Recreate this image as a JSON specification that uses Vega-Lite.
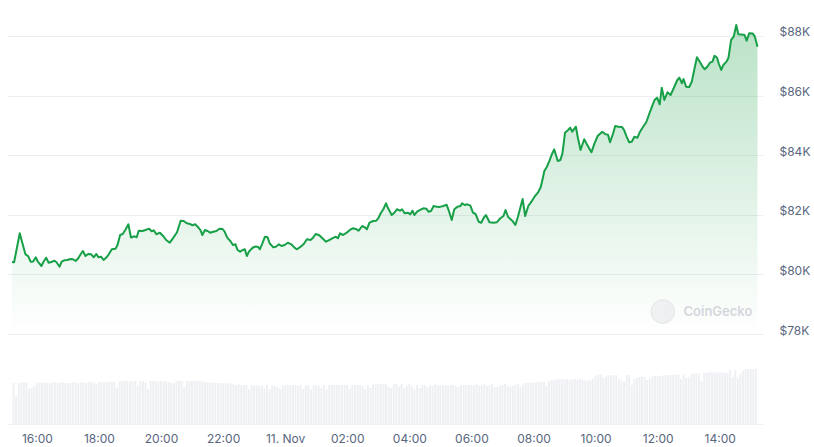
{
  "$schema": "https://vega.github.io/schema/vega-lite/v6.json",
  "width": 756,
  "height": 414,
  "padding": {"left": 7, "top": 10, "right": 51, "bottom": 23},
  "autosize": {"type": "none"},
  "background": "#ffffff",
  "config": {"view": {"stroke": null}, "font": "Inter"},
  "datasets": {
    "price": [
      {"time":"2024-11-10T15:12:00Z","price":80416},{"time":"2024-11-10T15:16:00Z","price":80406},{"time":"2024-11-10T15:27:00Z","price":81379},{"time":"2024-11-10T15:34:00Z","price":80930},{"time":"2024-11-10T15:38:00Z","price":80674},{"time":"2024-11-10T15:43:00Z","price":80617},{"time":"2024-11-10T15:48:00Z","price":80426},{"time":"2024-11-10T15:53:00Z","price":80430},{"time":"2024-11-10T15:58:00Z","price":80574},{"time":"2024-11-10T16:02:00Z","price":80426},{"time":"2024-11-10T16:09:00Z","price":80282},{"time":"2024-11-10T16:13:00Z","price":80426},{"time":"2024-11-10T16:18:00Z","price":80560},{"time":"2024-11-10T16:23:00Z","price":80393},{"time":"2024-11-10T16:28:00Z","price":80416},{"time":"2024-11-10T16:34:00Z","price":80460},{"time":"2024-11-10T16:38:00Z","price":80406},{"time":"2024-11-10T16:44:00Z","price":80258},{"time":"2024-11-10T16:48:00Z","price":80426},{"time":"2024-11-10T16:53:00Z","price":80473},{"time":"2024-11-10T16:59:00Z","price":80483},{"time":"2024-11-10T17:05:00Z","price":80517},{"time":"2024-11-10T17:10:00Z","price":80507},{"time":"2024-11-10T17:15:00Z","price":80450},{"time":"2024-11-10T17:20:00Z","price":80540},{"time":"2024-11-10T17:25:00Z","price":80685},{"time":"2024-11-10T17:29:00Z","price":80785},{"time":"2024-11-10T17:34:00Z","price":80617},{"time":"2024-11-10T17:39:00Z","price":80685},{"time":"2024-11-10T17:45:00Z","price":80674},{"time":"2024-11-10T17:50:00Z","price":80574},{"time":"2024-11-10T17:55:00Z","price":80685},{"time":"2024-11-10T17:59:00Z","price":80574},{"time":"2024-11-10T18:04:00Z","price":80594},{"time":"2024-11-10T18:09:00Z","price":80483},{"time":"2024-11-10T18:15:00Z","price":80574},{"time":"2024-11-10T18:19:00Z","price":80674},{"time":"2024-11-10T18:25:00Z","price":80842},{"time":"2024-11-10T18:32:00Z","price":80862},{"time":"2024-11-10T18:36:00Z","price":80987},{"time":"2024-11-10T18:41:00Z","price":81322},{"time":"2024-11-10T18:46:00Z","price":81356},{"time":"2024-11-10T18:51:00Z","price":81490},{"time":"2024-11-10T18:57:00Z","price":81681},{"time":"2024-11-10T19:02:00Z","price":81238},{"time":"2024-11-10T19:09:00Z","price":81279},{"time":"2024-11-10T19:13:00Z","price":81245},{"time":"2024-11-10T19:17:00Z","price":81466},{"time":"2024-11-10T19:24:00Z","price":81456},{"time":"2024-11-10T19:30:00Z","price":81490},{"time":"2024-11-10T19:37:00Z","price":81534},{"time":"2024-11-10T19:42:00Z","price":81446},{"time":"2024-11-10T19:46:00Z","price":81480},{"time":"2024-11-10T19:51:00Z","price":81346},{"time":"2024-11-10T19:58:00Z","price":81399},{"time":"2024-11-10T20:04:00Z","price":81289},{"time":"2024-11-10T20:10:00Z","price":81154},{"time":"2024-11-10T20:17:00Z","price":81064},{"time":"2024-11-10T20:23:00Z","price":81211},{"time":"2024-11-10T20:31:00Z","price":81413},{"time":"2024-11-10T20:38:00Z","price":81802},{"time":"2024-11-10T20:44:00Z","price":81790},{"time":"2024-11-10T20:50:00Z","price":81715},{"time":"2024-11-10T20:56:00Z","price":81691},{"time":"2024-11-10T21:01:00Z","price":81648},{"time":"2024-11-10T21:06:00Z","price":81681},{"time":"2024-11-10T21:12:00Z","price":81581},{"time":"2024-11-10T21:16:00Z","price":81490},{"time":"2024-11-10T21:20:00Z","price":81322},{"time":"2024-11-10T21:25:00Z","price":81490},{"time":"2024-11-10T21:30:00Z","price":81456},{"time":"2024-11-10T21:35:00Z","price":81399},{"time":"2024-11-10T21:41:00Z","price":81433},{"time":"2024-11-10T21:47:00Z","price":81456},{"time":"2024-11-10T21:53:00Z","price":81534},{"time":"2024-11-10T21:59:00Z","price":81523},{"time":"2024-11-10T22:03:00Z","price":81433},{"time":"2024-11-10T22:08:00Z","price":81232},{"time":"2024-11-10T22:14:00Z","price":81121},{"time":"2024-11-10T22:19:00Z","price":80987},{"time":"2024-11-10T22:24:00Z","price":81010},{"time":"2024-11-10T22:28:00Z","price":80819},{"time":"2024-11-10T22:33:00Z","price":80762},{"time":"2024-11-10T22:38:00Z","price":80819},{"time":"2024-11-10T22:42:00Z","price":80842},{"time":"2024-11-10T22:46:00Z","price":80617},{"time":"2024-11-10T22:50:00Z","price":80762},{"time":"2024-11-10T22:57:00Z","price":80893},{"time":"2024-11-10T23:03:00Z","price":80936},{"time":"2024-11-10T23:08:00Z","price":80919},{"time":"2024-11-10T23:11:00Z","price":80842},{"time":"2024-11-10T23:16:00Z","price":81044},{"time":"2024-11-10T23:21:00Z","price":81265},{"time":"2024-11-10T23:26:00Z","price":81245},{"time":"2024-11-10T23:30:00Z","price":81044},{"time":"2024-11-10T23:37:00Z","price":80909},{"time":"2024-11-10T23:42:00Z","price":80930},{"time":"2024-11-10T23:48:00Z","price":81010},{"time":"2024-11-10T23:53:00Z","price":80953},{"time":"2024-11-10T23:59:00Z","price":80987},
      {"time":"2024-11-11T00:05:00Z","price":81064},{"time":"2024-11-11T00:12:00Z","price":81010},{"time":"2024-11-11T00:18:00Z","price":80896},{"time":"2024-11-11T00:23:00Z","price":80842},{"time":"2024-11-11T00:30:00Z","price":80930},{"time":"2024-11-11T00:36:00Z","price":81020},{"time":"2024-11-11T00:42:00Z","price":81178},{"time":"2024-11-11T00:49:00Z","price":81154},{"time":"2024-11-11T00:54:00Z","price":81232},{"time":"2024-11-11T00:59:00Z","price":81356},{"time":"2024-11-11T01:06:00Z","price":81312},{"time":"2024-11-11T01:12:00Z","price":81211},{"time":"2024-11-11T01:19:00Z","price":81097},{"time":"2024-11-11T01:25:00Z","price":81154},{"time":"2024-11-11T01:31:00Z","price":81211},{"time":"2024-11-11T01:38:00Z","price":81265},{"time":"2024-11-11T01:42:00Z","price":81211},{"time":"2024-11-11T01:46:00Z","price":81379},{"time":"2024-11-11T01:52:00Z","price":81322},{"time":"2024-11-11T01:59:00Z","price":81399},{"time":"2024-11-11T02:05:00Z","price":81490},{"time":"2024-11-11T02:11:00Z","price":81547},{"time":"2024-11-11T02:18:00Z","price":81513},{"time":"2024-11-11T02:22:00Z","price":81466},{"time":"2024-11-11T02:29:00Z","price":81624},{"time":"2024-11-11T02:34:00Z","price":81581},{"time":"2024-11-11T02:38:00Z","price":81513},{"time":"2024-11-11T02:43:00Z","price":81735},{"time":"2024-11-11T02:50:00Z","price":81792},{"time":"2024-11-11T02:56:00Z","price":81802},{"time":"2024-11-11T03:00:00Z","price":81883},{"time":"2024-11-11T03:05:00Z","price":82060},{"time":"2024-11-11T03:10:00Z","price":82195},{"time":"2024-11-11T03:15:00Z","price":82386},{"time":"2024-11-11T03:19:00Z","price":82218},{"time":"2024-11-11T03:26:00Z","price":81993},{"time":"2024-11-11T03:32:00Z","price":82084},{"time":"2024-11-11T03:36:00Z","price":82185},{"time":"2024-11-11T03:42:00Z","price":82138},{"time":"2024-11-11T03:46:00Z","price":82185},{"time":"2024-11-11T03:51:00Z","price":82050},{"time":"2024-11-11T03:57:00Z","price":82071},{"time":"2024-11-11T04:02:00Z","price":82017},{"time":"2024-11-11T04:06:00Z","price":82138},{"time":"2024-11-11T04:10:00Z","price":81993},{"time":"2024-11-11T04:15:00Z","price":82104},{"time":"2024-11-11T04:21:00Z","price":82161},{"time":"2024-11-11T04:27:00Z","price":82218},{"time":"2024-11-11T04:33:00Z","price":82205},{"time":"2024-11-11T04:37:00Z","price":82104},{"time":"2024-11-11T04:42:00Z","price":82128},{"time":"2024-11-11T04:47:00Z","price":82295},{"time":"2024-11-11T04:53:00Z","price":82272},{"time":"2024-11-11T04:59:00Z","price":82265},{"time":"2024-11-11T05:06:00Z","price":82295},{"time":"2024-11-11T05:12:00Z","price":82339},{"time":"2024-11-11T05:17:00Z","price":82104},{"time":"2024-11-11T05:22:00Z","price":81826},{"time":"2024-11-11T05:27:00Z","price":82185},{"time":"2024-11-11T05:33:00Z","price":82272},{"time":"2024-11-11T05:39:00Z","price":82295},{"time":"2024-11-11T05:42:00Z","price":82386},{"time":"2024-11-11T05:47:00Z","price":82329},{"time":"2024-11-11T05:52:00Z","price":82352},{"time":"2024-11-11T05:58:00Z","price":82305},{"time":"2024-11-11T06:03:00Z","price":82071},{"time":"2024-11-11T06:08:00Z","price":82027},{"time":"2024-11-11T06:14:00Z","price":81768},{"time":"2024-11-11T06:19:00Z","price":81735},{"time":"2024-11-11T06:24:00Z","price":81903},{"time":"2024-11-11T06:28:00Z","price":81993},{"time":"2024-11-11T06:35:00Z","price":81748},{"time":"2024-11-11T06:43:00Z","price":81735},{"time":"2024-11-11T06:49:00Z","price":81748},{"time":"2024-11-11T06:56:00Z","price":81883},{"time":"2024-11-11T07:02:00Z","price":81960},{"time":"2024-11-11T07:06:00Z","price":82161},{"time":"2024-11-11T07:11:00Z","price":81926},{"time":"2024-11-11T07:19:00Z","price":81802},{"time":"2024-11-11T07:25:00Z","price":81658},{"time":"2024-11-11T07:30:00Z","price":81936},{"time":"2024-11-11T07:39:00Z","price":82530},{"time":"2024-11-11T07:44:00Z","price":81960},{"time":"2024-11-11T07:50:00Z","price":82295},{"time":"2024-11-11T07:56:00Z","price":82440},{"time":"2024-11-11T08:02:00Z","price":82607},{"time":"2024-11-11T08:09:00Z","price":82755},{"time":"2024-11-11T08:14:00Z","price":82923},{"time":"2024-11-11T08:18:00Z","price":83225},{"time":"2024-11-11T08:21:00Z","price":83470},{"time":"2024-11-11T08:26:00Z","price":83614},{"time":"2024-11-11T08:31:00Z","price":83816},{"time":"2024-11-11T08:35:00Z","price":84007},{"time":"2024-11-11T08:40:00Z","price":84198},{"time":"2024-11-11T08:47:00Z","price":83805},{"time":"2024-11-11T08:52:00Z","price":83839},{"time":"2024-11-11T08:56:00Z","price":84064},{"time":"2024-11-11T09:01:00Z","price":84755},{"time":"2024-11-11T09:07:00Z","price":84846},{"time":"2024-11-11T09:11:00Z","price":84923},{"time":"2024-11-11T09:15:00Z","price":84789},{"time":"2024-11-11T09:22:00Z","price":84956},{"time":"2024-11-11T09:26:00Z","price":84567},{"time":"2024-11-11T09:31:00Z","price":84174},{"time":"2024-11-11T09:38:00Z","price":84534},{"time":"2024-11-11T09:44:00Z","price":84342},{"time":"2024-11-11T09:52:00Z","price":84097},{"time":"2024-11-11T09:58:00Z","price":84399},{"time":"2024-11-11T10:04:00Z","price":84644},{"time":"2024-11-11T10:13:00Z","price":84789},{"time":"2024-11-11T10:19:00Z","price":84701},{"time":"2024-11-11T10:24:00Z","price":84690},{"time":"2024-11-11T10:28:00Z","price":84433},{"time":"2024-11-11T10:34:00Z","price":84735},{"time":"2024-11-11T10:38:00Z","price":84980},{"time":"2024-11-11T10:44:00Z","price":84956},{"time":"2024-11-11T10:51:00Z","price":84950},{"time":"2024-11-11T10:55:00Z","price":84846},{"time":"2024-11-11T11:00:00Z","price":84621},{"time":"2024-11-11T11:05:00Z","price":84433},{"time":"2024-11-11T11:10:00Z","price":84453},{"time":"2024-11-11T11:15:00Z","price":84621},{"time":"2024-11-11T11:21:00Z","price":84587},{"time":"2024-11-11T11:26:00Z","price":84789},{"time":"2024-11-11T11:32:00Z","price":84956},{"time":"2024-11-11T11:38:00Z","price":85104},{"time":"2024-11-11T11:43:00Z","price":85349},{"time":"2024-11-11T11:49:00Z","price":85628},{"time":"2024-11-11T11:54:00Z","price":85852},{"time":"2024-11-11T11:59:00Z","price":85930},{"time":"2024-11-11T12:04:00Z","price":85708},{"time":"2024-11-11T12:08:00Z","price":86265},{"time":"2024-11-11T12:13:00Z","price":85852},{"time":"2024-11-11T12:19:00Z","price":86111},{"time":"2024-11-11T12:25:00Z","price":86020},{"time":"2024-11-11T12:31:00Z","price":86245},{"time":"2024-11-11T12:38:00Z","price":86523},{"time":"2024-11-11T12:42:00Z","price":86601},{"time":"2024-11-11T12:47:00Z","price":86413},{"time":"2024-11-11T12:50:00Z","price":86557},{"time":"2024-11-11T12:55:00Z","price":86299},{"time":"2024-11-11T13:01:00Z","price":86290},{"time":"2024-11-11T13:06:00Z","price":86466},{"time":"2024-11-11T13:11:00Z","price":86883},{"time":"2024-11-11T13:16:00Z","price":87285},{"time":"2024-11-11T13:22:00Z","price":87117},{"time":"2024-11-11T13:27:00Z","price":86970},{"time":"2024-11-11T13:31:00Z","price":86883},{"time":"2024-11-11T13:36:00Z","price":86970},{"time":"2024-11-11T13:41:00Z","price":87104},{"time":"2024-11-11T13:46:00Z","price":87138},{"time":"2024-11-11T13:50:00Z","price":87339},{"time":"2024-11-11T13:55:00Z","price":87272},{"time":"2024-11-11T13:58:00Z","price":87084},{"time":"2024-11-11T14:03:00Z","price":86859},{"time":"2024-11-11T14:07:00Z","price":87027},{"time":"2024-11-11T14:13:00Z","price":87138},{"time":"2024-11-11T14:17:00Z","price":87272},{"time":"2024-11-11T14:22:00Z","price":87866},{"time":"2024-11-11T14:27:00Z","price":87977},{"time":"2024-11-11T14:32:00Z","price":88369},{"time":"2024-11-11T14:36:00Z","price":88057},{"time":"2024-11-11T14:43:00Z","price":88050},{"time":"2024-11-11T14:48:00Z","price":88034},{"time":"2024-11-11T14:52:00Z","price":87842},{"time":"2024-11-11T14:57:00Z","price":88090},{"time":"2024-11-11T15:04:00Z","price":88080},{"time":"2024-11-11T15:08:00Z","price":87977},{"time":"2024-11-11T15:13:00Z","price":87641}
    ],
    "volume": [
      {"time":"2024-11-10T15:15:00Z","volume":205},{"time":"2024-11-10T15:20:00Z","volume":140},{"time":"2024-11-10T15:25:00Z","volume":205},{"time":"2024-11-10T15:30:00Z","volume":208},{"time":"2024-11-10T15:35:00Z","volume":208},{"time":"2024-11-10T15:40:00Z","volume":208},{"time":"2024-11-10T15:45:00Z","volume":175},{"time":"2024-11-10T15:50:00Z","volume":180},{"time":"2024-11-10T15:55:00Z","volume":188},{"time":"2024-11-10T16:00:00Z","volume":208},{"time":"2024-11-10T16:05:00Z","volume":205},{"time":"2024-11-10T16:10:00Z","volume":208},
      {"time":"2024-11-10T16:15:00Z","volume":208},{"time":"2024-11-10T16:20:00Z","volume":208},{"time":"2024-11-10T16:25:00Z","volume":203},{"time":"2024-11-10T16:30:00Z","volume":208},{"time":"2024-11-10T16:35:00Z","volume":208},{"time":"2024-11-10T16:40:00Z","volume":205},{"time":"2024-11-10T16:45:00Z","volume":208},{"time":"2024-11-10T16:50:00Z","volume":208},{"time":"2024-11-10T16:55:00Z","volume":203},{"time":"2024-11-10T17:00:00Z","volume":205},{"time":"2024-11-10T17:05:00Z","volume":205},{"time":"2024-11-10T17:10:00Z","volume":208},
      {"time":"2024-11-10T17:15:00Z","volume":208},{"time":"2024-11-10T17:20:00Z","volume":203},{"time":"2024-11-10T17:25:00Z","volume":208},{"time":"2024-11-10T17:30:00Z","volume":208},{"time":"2024-11-10T17:35:00Z","volume":205},{"time":"2024-11-10T17:40:00Z","volume":210},{"time":"2024-11-10T17:45:00Z","volume":210},{"time":"2024-11-10T17:50:00Z","volume":208},{"time":"2024-11-10T17:55:00Z","volume":200},{"time":"2024-11-10T18:00:00Z","volume":210},{"time":"2024-11-10T18:05:00Z","volume":210},{"time":"2024-11-10T18:10:00Z","volume":208},
      {"time":"2024-11-10T18:15:00Z","volume":210},{"time":"2024-11-10T18:20:00Z","volume":210},{"time":"2024-11-10T18:25:00Z","volume":213},{"time":"2024-11-10T18:30:00Z","volume":210},{"time":"2024-11-10T18:35:00Z","volume":180},{"time":"2024-11-10T18:40:00Z","volume":213},{"time":"2024-11-10T18:45:00Z","volume":215},{"time":"2024-11-10T18:50:00Z","volume":215},{"time":"2024-11-10T18:55:00Z","volume":215},{"time":"2024-11-10T19:00:00Z","volume":213},{"time":"2024-11-10T19:05:00Z","volume":215},{"time":"2024-11-10T19:10:00Z","volume":215},
      {"time":"2024-11-10T19:15:00Z","volume":190},{"time":"2024-11-10T19:20:00Z","volume":215},{"time":"2024-11-10T19:25:00Z","volume":215},{"time":"2024-11-10T19:30:00Z","volume":208},{"time":"2024-11-10T19:35:00Z","volume":175},{"time":"2024-11-10T19:40:00Z","volume":215},{"time":"2024-11-10T19:45:00Z","volume":215},{"time":"2024-11-10T19:50:00Z","volume":215},{"time":"2024-11-10T19:55:00Z","volume":213},{"time":"2024-11-10T20:00:00Z","volume":215},{"time":"2024-11-10T20:05:00Z","volume":215},{"time":"2024-11-10T20:10:00Z","volume":213},
      {"time":"2024-11-10T20:15:00Z","volume":210},{"time":"2024-11-10T20:20:00Z","volume":205},{"time":"2024-11-10T20:25:00Z","volume":205},{"time":"2024-11-10T20:30:00Z","volume":215},{"time":"2024-11-10T20:35:00Z","volume":215},{"time":"2024-11-10T20:40:00Z","volume":215},{"time":"2024-11-10T20:45:00Z","volume":185},{"time":"2024-11-10T20:50:00Z","volume":215},{"time":"2024-11-10T20:55:00Z","volume":215},{"time":"2024-11-10T21:00:00Z","volume":215},{"time":"2024-11-10T21:05:00Z","volume":215},{"time":"2024-11-10T21:10:00Z","volume":215},
      {"time":"2024-11-10T21:15:00Z","volume":215},{"time":"2024-11-10T21:20:00Z","volume":213},{"time":"2024-11-10T21:25:00Z","volume":210},{"time":"2024-11-10T21:30:00Z","volume":208},{"time":"2024-11-10T21:35:00Z","volume":208},{"time":"2024-11-10T21:40:00Z","volume":208},{"time":"2024-11-10T21:45:00Z","volume":205},{"time":"2024-11-10T21:50:00Z","volume":205},{"time":"2024-11-10T21:55:00Z","volume":205},{"time":"2024-11-10T22:00:00Z","volume":203},{"time":"2024-11-10T22:05:00Z","volume":203},{"time":"2024-11-10T22:10:00Z","volume":205},
      {"time":"2024-11-10T22:15:00Z","volume":203},{"time":"2024-11-10T22:20:00Z","volume":200},{"time":"2024-11-10T22:25:00Z","volume":195},{"time":"2024-11-10T22:30:00Z","volume":198},{"time":"2024-11-10T22:35:00Z","volume":193},{"time":"2024-11-10T22:40:00Z","volume":195},{"time":"2024-11-10T22:45:00Z","volume":195},{"time":"2024-11-10T22:50:00Z","volume":174},{"time":"2024-11-10T22:55:00Z","volume":193},{"time":"2024-11-10T23:00:00Z","volume":193},{"time":"2024-11-10T23:05:00Z","volume":195},{"time":"2024-11-10T23:10:00Z","volume":190},
      {"time":"2024-11-10T23:15:00Z","volume":193},{"time":"2024-11-10T23:20:00Z","volume":180},{"time":"2024-11-10T23:25:00Z","volume":195},{"time":"2024-11-10T23:30:00Z","volume":173},{"time":"2024-11-10T23:35:00Z","volume":193},{"time":"2024-11-10T23:40:00Z","volume":190},{"time":"2024-11-10T23:45:00Z","volume":185},{"time":"2024-11-10T23:50:00Z","volume":175},{"time":"2024-11-10T23:55:00Z","volume":193},{"time":"2024-11-11T00:00:00Z","volume":195},{"time":"2024-11-11T00:05:00Z","volume":195},{"time":"2024-11-11T00:10:00Z","volume":193},
      {"time":"2024-11-11T00:15:00Z","volume":195},{"time":"2024-11-11T00:20:00Z","volume":195},{"time":"2024-11-11T00:25:00Z","volume":190},{"time":"2024-11-11T00:30:00Z","volume":193},{"time":"2024-11-11T00:35:00Z","volume":175},{"time":"2024-11-11T00:40:00Z","volume":193},{"time":"2024-11-11T00:45:00Z","volume":195},{"time":"2024-11-11T00:50:00Z","volume":173},{"time":"2024-11-11T00:55:00Z","volume":193},{"time":"2024-11-11T01:00:00Z","volume":195},{"time":"2024-11-11T01:05:00Z","volume":190},{"time":"2024-11-11T01:10:00Z","volume":180},
      {"time":"2024-11-11T01:15:00Z","volume":195},{"time":"2024-11-11T01:20:00Z","volume":173},{"time":"2024-11-11T01:25:00Z","volume":195},{"time":"2024-11-11T01:30:00Z","volume":195},{"time":"2024-11-11T01:35:00Z","volume":195},{"time":"2024-11-11T01:40:00Z","volume":195},{"time":"2024-11-11T01:45:00Z","volume":195},{"time":"2024-11-11T01:50:00Z","volume":195},{"time":"2024-11-11T01:55:00Z","volume":195},{"time":"2024-11-11T02:00:00Z","volume":195},{"time":"2024-11-11T02:05:00Z","volume":175},{"time":"2024-11-11T02:10:00Z","volume":195},
      {"time":"2024-11-11T02:15:00Z","volume":195},{"time":"2024-11-11T02:20:00Z","volume":195},{"time":"2024-11-11T02:25:00Z","volume":195},{"time":"2024-11-11T02:30:00Z","volume":190},{"time":"2024-11-11T02:35:00Z","volume":175},{"time":"2024-11-11T02:40:00Z","volume":195},{"time":"2024-11-11T02:45:00Z","volume":180},{"time":"2024-11-11T02:50:00Z","volume":198},{"time":"2024-11-11T02:55:00Z","volume":198},{"time":"2024-11-11T03:00:00Z","volume":200},{"time":"2024-11-11T03:05:00Z","volume":200},{"time":"2024-11-11T03:10:00Z","volume":200},
      {"time":"2024-11-11T03:15:00Z","volume":200},{"time":"2024-11-11T03:20:00Z","volume":185},{"time":"2024-11-11T03:25:00Z","volume":180},{"time":"2024-11-11T03:30:00Z","volume":200},{"time":"2024-11-11T03:35:00Z","volume":200},{"time":"2024-11-11T03:40:00Z","volume":185},{"time":"2024-11-11T03:45:00Z","volume":200},{"time":"2024-11-11T03:50:00Z","volume":180},{"time":"2024-11-11T03:55:00Z","volume":190},{"time":"2024-11-11T04:00:00Z","volume":200},{"time":"2024-11-11T04:05:00Z","volume":190},{"time":"2024-11-11T04:10:00Z","volume":175},
      {"time":"2024-11-11T04:15:00Z","volume":195},{"time":"2024-11-11T04:20:00Z","volume":180},{"time":"2024-11-11T04:25:00Z","volume":193},{"time":"2024-11-11T04:30:00Z","volume":195},{"time":"2024-11-11T04:35:00Z","volume":185},{"time":"2024-11-11T04:40:00Z","volume":193},{"time":"2024-11-11T04:45:00Z","volume":190},{"time":"2024-11-11T04:50:00Z","volume":200},{"time":"2024-11-11T04:55:00Z","volume":195},{"time":"2024-11-11T05:00:00Z","volume":195},{"time":"2024-11-11T05:05:00Z","volume":193},{"time":"2024-11-11T05:10:00Z","volume":195},
      {"time":"2024-11-11T05:15:00Z","volume":190},{"time":"2024-11-11T05:20:00Z","volume":195},{"time":"2024-11-11T05:25:00Z","volume":195},{"time":"2024-11-11T05:30:00Z","volume":190},{"time":"2024-11-11T05:35:00Z","volume":185},{"time":"2024-11-11T05:40:00Z","volume":195},{"time":"2024-11-11T05:45:00Z","volume":195},{"time":"2024-11-11T05:50:00Z","volume":195},{"time":"2024-11-11T05:55:00Z","volume":195},{"time":"2024-11-11T06:00:00Z","volume":195},{"time":"2024-11-11T06:05:00Z","volume":193},{"time":"2024-11-11T06:10:00Z","volume":200},
      {"time":"2024-11-11T06:15:00Z","volume":193},{"time":"2024-11-11T06:20:00Z","volume":195},{"time":"2024-11-11T06:25:00Z","volume":200},{"time":"2024-11-11T06:30:00Z","volume":190},{"time":"2024-11-11T06:35:00Z","volume":195},{"time":"2024-11-11T06:40:00Z","volume":200},{"time":"2024-11-11T06:45:00Z","volume":185},{"time":"2024-11-11T06:50:00Z","volume":185},{"time":"2024-11-11T06:55:00Z","volume":193},{"time":"2024-11-11T07:00:00Z","volume":195},{"time":"2024-11-11T07:05:00Z","volume":200},{"time":"2024-11-11T07:10:00Z","volume":193},
      {"time":"2024-11-11T07:15:00Z","volume":185},{"time":"2024-11-11T07:20:00Z","volume":193},{"time":"2024-11-11T07:25:00Z","volume":195},{"time":"2024-11-11T07:30:00Z","volume":200},{"time":"2024-11-11T07:35:00Z","volume":185},{"time":"2024-11-11T07:40:00Z","volume":198},{"time":"2024-11-11T07:45:00Z","volume":205},{"time":"2024-11-11T07:50:00Z","volume":205},{"time":"2024-11-11T07:55:00Z","volume":208},{"time":"2024-11-11T08:00:00Z","volume":208},{"time":"2024-11-11T08:05:00Z","volume":210},{"time":"2024-11-11T08:10:00Z","volume":208},
      {"time":"2024-11-11T08:15:00Z","volume":210},{"time":"2024-11-11T08:20:00Z","volume":210},{"time":"2024-11-11T08:25:00Z","volume":190},{"time":"2024-11-11T08:30:00Z","volume":213},{"time":"2024-11-11T08:35:00Z","volume":218},{"time":"2024-11-11T08:40:00Z","volume":220},{"time":"2024-11-11T08:45:00Z","volume":223},{"time":"2024-11-11T08:50:00Z","volume":223},{"time":"2024-11-11T08:55:00Z","volume":225},{"time":"2024-11-11T09:00:00Z","volume":223},{"time":"2024-11-11T09:05:00Z","volume":225},{"time":"2024-11-11T09:10:00Z","volume":220},
      {"time":"2024-11-11T09:15:00Z","volume":225},{"time":"2024-11-11T09:20:00Z","volume":225},{"time":"2024-11-11T09:25:00Z","volume":220},{"time":"2024-11-11T09:30:00Z","volume":225},{"time":"2024-11-11T09:35:00Z","volume":220},{"time":"2024-11-11T09:40:00Z","volume":218},{"time":"2024-11-11T09:45:00Z","volume":218},{"time":"2024-11-11T09:50:00Z","volume":220},{"time":"2024-11-11T09:55:00Z","volume":225},{"time":"2024-11-11T10:00:00Z","volume":240},{"time":"2024-11-11T10:05:00Z","volume":245},{"time":"2024-11-11T10:10:00Z","volume":245},
      {"time":"2024-11-11T10:15:00Z","volume":230},{"time":"2024-11-11T10:20:00Z","volume":238},{"time":"2024-11-11T10:25:00Z","volume":243},{"time":"2024-11-11T10:30:00Z","volume":243},{"time":"2024-11-11T10:35:00Z","volume":245},{"time":"2024-11-11T10:40:00Z","volume":245},{"time":"2024-11-11T10:45:00Z","volume":225},{"time":"2024-11-11T10:50:00Z","volume":218},{"time":"2024-11-11T10:55:00Z","volume":210},{"time":"2024-11-11T11:00:00Z","volume":243},{"time":"2024-11-11T11:05:00Z","volume":245},{"time":"2024-11-11T11:10:00Z","volume":195},
      {"time":"2024-11-11T11:15:00Z","volume":225},{"time":"2024-11-11T11:20:00Z","volume":230},{"time":"2024-11-11T11:25:00Z","volume":235},{"time":"2024-11-11T11:30:00Z","volume":238},{"time":"2024-11-11T11:35:00Z","volume":235},{"time":"2024-11-11T11:40:00Z","volume":220},{"time":"2024-11-11T11:45:00Z","volume":230},{"time":"2024-11-11T11:50:00Z","volume":240},{"time":"2024-11-11T11:55:00Z","volume":240},{"time":"2024-11-11T12:00:00Z","volume":240},{"time":"2024-11-11T12:05:00Z","volume":240},{"time":"2024-11-11T12:10:00Z","volume":243},
      {"time":"2024-11-11T12:15:00Z","volume":243},{"time":"2024-11-11T12:20:00Z","volume":245},{"time":"2024-11-11T12:25:00Z","volume":245},{"time":"2024-11-11T12:30:00Z","volume":245},{"time":"2024-11-11T12:35:00Z","volume":248},{"time":"2024-11-11T12:40:00Z","volume":248},{"time":"2024-11-11T12:45:00Z","volume":225},{"time":"2024-11-11T12:50:00Z","volume":248},{"time":"2024-11-11T12:55:00Z","volume":230},{"time":"2024-11-11T13:00:00Z","volume":235},{"time":"2024-11-11T13:05:00Z","volume":250},{"time":"2024-11-11T13:10:00Z","volume":253},
      {"time":"2024-11-11T13:15:00Z","volume":253},{"time":"2024-11-11T13:20:00Z","volume":253},{"time":"2024-11-11T13:25:00Z","volume":213},{"time":"2024-11-11T13:30:00Z","volume":255},{"time":"2024-11-11T13:35:00Z","volume":255},{"time":"2024-11-11T13:40:00Z","volume":260},{"time":"2024-11-11T13:45:00Z","volume":258},{"time":"2024-11-11T13:50:00Z","volume":258},{"time":"2024-11-11T13:55:00Z","volume":258},{"time":"2024-11-11T14:00:00Z","volume":258},{"time":"2024-11-11T14:05:00Z","volume":258},{"time":"2024-11-11T14:10:00Z","volume":258},
      {"time":"2024-11-11T14:15:00Z","volume":253},{"time":"2024-11-11T14:20:00Z","volume":270},{"time":"2024-11-11T14:25:00Z","volume":235},{"time":"2024-11-11T14:30:00Z","volume":270},{"time":"2024-11-11T14:35:00Z","volume":230},{"time":"2024-11-11T14:40:00Z","volume":250},{"time":"2024-11-11T14:45:00Z","volume":265},{"time":"2024-11-11T14:50:00Z","volume":273},{"time":"2024-11-11T14:55:00Z","volume":275},{"time":"2024-11-11T15:00:00Z","volume":275},{"time":"2024-11-11T15:05:00Z","volume":275},{"time":"2024-11-11T15:10:00Z","volume":275}
    ]
  },
  "layer": [
    {
      "data": {"name": "volume"},
      "mark": {"type": "bar", "color": "#eef0f3", "size": 2},
      "encoding": {
        "x": {
          "field": "time",
          "type": "temporal",
          "title": null,
          "scale": {
            "type": "utc",
            "domain": [
              {"year": 2024, "month": 11, "date": 10, "hours": 15, "minutes": 12, "utc": true},
              {"year": 2024, "month": 11, "date": 11, "hours": 15, "minutes": 14, "utc": true}
            ]
          },
          "axis": {
            "values": [
              {"year": 2024, "month": 11, "date": 10, "hours": 16, "utc": true},
              {"year": 2024, "month": 11, "date": 10, "hours": 18, "utc": true},
              {"year": 2024, "month": 11, "date": 10, "hours": 20, "utc": true},
              {"year": 2024, "month": 11, "date": 10, "hours": 22, "utc": true},
              {"year": 2024, "month": 11, "date": 11, "hours": 0, "utc": true},
              {"year": 2024, "month": 11, "date": 11, "hours": 2, "utc": true},
              {"year": 2024, "month": 11, "date": 11, "hours": 4, "utc": true},
              {"year": 2024, "month": 11, "date": 11, "hours": 6, "utc": true},
              {"year": 2024, "month": 11, "date": 11, "hours": 8, "utc": true},
              {"year": 2024, "month": 11, "date": 11, "hours": 10, "utc": true},
              {"year": 2024, "month": 11, "date": 11, "hours": 12, "utc": true},
              {"year": 2024, "month": 11, "date": 11, "hours": 14, "utc": true}
            ],
            "labelExpr": "utchours(datum.value) == 0 ? utcFormat(datum.value, '%-d. %b') : utcFormat(datum.value, '%H:%M')",
            "grid": false,
            "ticks": false,
            "tickSize": 0,
            "domain": true,
            "domainColor": "#eef0f3",
            "labelPadding": 9,
            "labelColor": "#58667e",
            "labelFont": "Inter",
            "labelFontSize": 12,
            "labelFlush": false,
            "labelOverlap": false
          }
        },
        "y": {"field": "volume", "type": "quantitative", "scale": {"domain": [0, 2070], "nice": false}, "axis": null}
      }
    },
    {
      "layer": [
        {
          "data": {"name": "price"},
          "mark": {
            "type": "area",
            "line": false,
            "color": {
              "gradient": "linear",
              "x1": 0, "y1": 0, "x2": 0, "y2": 1,
              "stops": [
                {"offset": 0, "color": "rgba(26,160,71,0.30)"},
                {"offset": 1, "color": "rgba(26,160,71,0.0)"}
              ]
            }
          },
          "encoding": {
            "x": {"field": "time", "type": "temporal"},
            "y": {
              "field": "price",
              "type": "quantitative",
              "scale": {"domain": [74980, 88872], "nice": false, "zero": false},
              "axis": {
                "orient": "right",
                "title": null,
                "values": [78000, 80000, 82000, 84000, 86000, 88000],
                "labelExpr": "'$' + (datum.value / 1000) + 'K'",
                "grid": true,
                "gridColor": "#eceef1",
                "gridWidth": 1,
                "ticks": false,
                "tickSize": 0,
                "domain": false,
                "labelPadding": 16,
                "labelAlign": "left",
                "labelBaseline": "alphabetic",
                "labelColor": "#58667e",
                "labelFont": "Inter",
                "labelFontSize": 12
              }
            },
            "y2": {"datum": 78000}
          }
        },
        {
          "data": {"name": "price"},
          "mark": {"type": "line", "color": "#17a047", "strokeWidth": 2, "strokeJoin": "round"},
          "encoding": {
            "x": {"field": "time", "type": "temporal"},
            "y": {"field": "price", "type": "quantitative"}
          }
        },
        {
          "data": {"values": [{"n": 1}]},
          "mark": {"type": "point", "filled": true, "size": 560, "color": "#eff0f2", "stroke": "#e3e5e8", "strokeWidth": 1, "opacity": 1},
          "encoding": {
            "x": {"datum": 1731327000000, "type": "temporal"},
            "y": {"datum": 78750, "type": "quantitative"}
          }
        },
        {
          "data": {"values": [{"n": 1}]},
          "mark": {"type": "text", "align": "left", "baseline": "middle", "font": "Inter", "fontSize": 13, "fontWeight": 600, "color": "#d3d7dc"},
          "encoding": {
            "x": {"datum": 1731329400000, "type": "temporal"},
            "y": {"datum": 78750, "type": "quantitative"},
            "text": {"value": "CoinGecko"}
          }
        }
      ]
    }
  ],
  "resolve": {"scale": {"y": "independent"}}
}
